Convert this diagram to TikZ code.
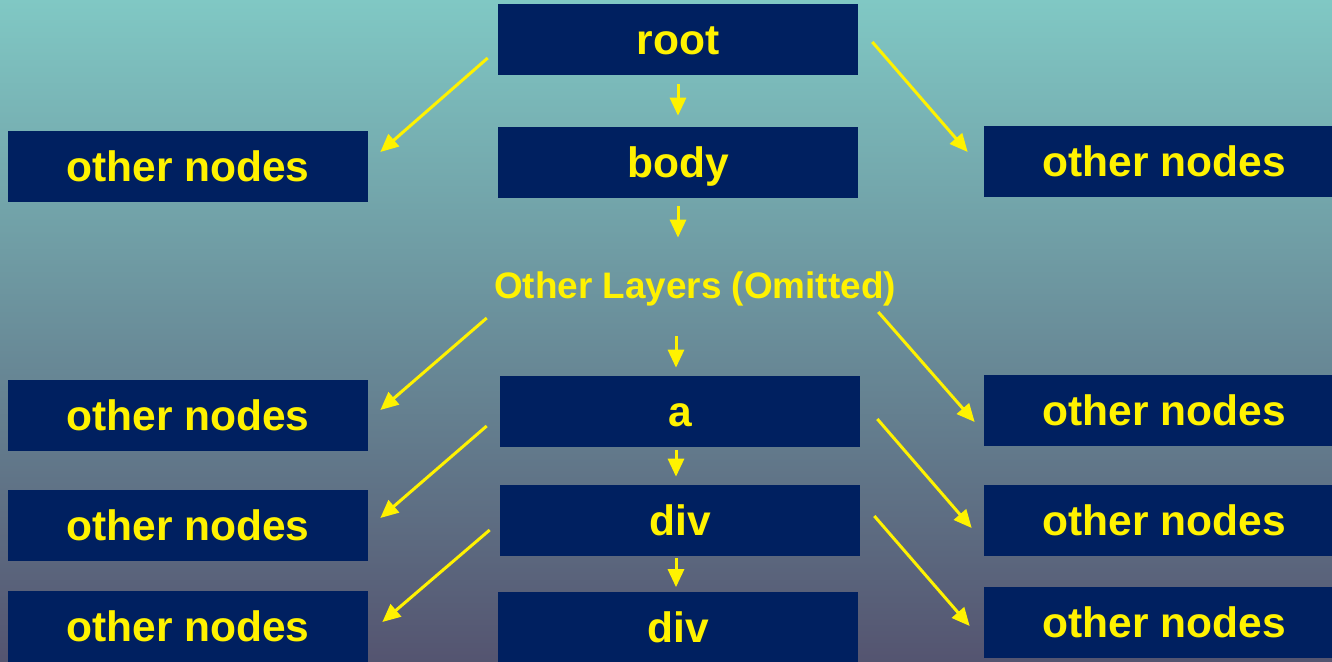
\documentclass[tikz,border=0pt]{standalone}
\usepackage{fontspec}
\setmainfont{Liberation Sans}
\definecolor{navybox}{HTML}{002060}
\definecolor{tealtop}{HTML}{80C8C4}
\definecolor{tealmid}{HTML}{6A9AA0}
\definecolor{slatebot}{HTML}{545470}
\usetikzlibrary{arrows.meta,positioning}

\begin{document}
\begin{tikzpicture}[x=0.02cm, y=-0.02cm,
  box/.style={fill=navybox, text=yellow, minimum width=7.2cm, minimum height=1.42cm,
    inner sep=0pt, text height=17.4pt, text depth=0pt,
    font=\bfseries\fontsize{24.2}{28}\selectfont},
  layer/.style={text=yellow, inner sep=0pt, minimum height=1.42cm,
    text height=15.2pt, text depth=0pt, font=\bfseries\fontsize{21}{25}\selectfont},
  link/.style={-{Triangle[length=0.36cm,width=0.32cm]}, yellow, line width=0.06cm}
]
  \useasboundingbox (0,0) rectangle (1332,662);
  \clip (0,0) rectangle (1332,662);
  \shade[top color=tealtop, middle color=tealmid, bottom color=slatebot] (0,0) rectangle (1332,662);

  % Middle column
  \node[box] (root) at (678,39.5) {root};
  \node[box] (body) at (678,162.5) {body};
  \node[layer] (layers) at (695,285) {Other Layers (Omitted)};
  \node[box] (a) at (680,411.5) {a};
  \node[box] (div1) at (680,520.5) {div};
  \node[box] (div2) at (678,627) {div};

  % Side columns
  \node[box] (left1) at (188,166.5) {other nodes};
  \node[box] (left2) at (188,415.5) {other nodes};
  \node[box] (left3) at (188,525.5) {other nodes};
  \node[box] (left4) at (188,626.5) {other nodes};
  \node[box] (right1) at (1164,161.5) {other nodes};
  \node[box] (right2) at (1164,410.5) {other nodes};
  \node[box] (right3) at (1164,520.5) {other nodes};
  \node[box] (right4) at (1164,622.5) {other nodes};

  % Down the tree
  \draw[link, shorten <=0.18cm, shorten >=0.22cm] (root) -- (body);
  \draw[link, shorten <=0.16cm, shorten >=0.23cm] (body.south) -- (body.south |- layers.north);
  \draw[link, shorten <=0.31cm, shorten >=0.16cm] ([xshift=-0.08cm]a.north |- layers.south) -- ([xshift=-0.08cm]a.north);
  \draw[link, shorten <=0.06cm, shorten >=0.16cm] ([xshift=-0.08cm]a.south) -- ([xshift=-0.08cm]div1.north);
  \draw[link, shorten <=0.04cm, shorten >=0.08cm] ([xshift=-0.08cm]div1.south) -- ([xshift=-0.08cm]div1.south |- div2.north);

  % Branches
  \draw[link] ([shift={(-10,18.5)}]root.west) -- ([shift={(12,-14.5)}]left1.east);
  \draw[link] ([shift={(14,2.5)}]root.east) -- ([shift={(-16,-9.5)}]right1.west);
  \draw[link] ([shift={(-7,33)}]layers.west) -- ([shift={(12,-5.5)}]left2.east);
  \draw[link] ([shift={(-18,27)}]layers.east) -- ([shift={(-9,11.5)}]right2.west);
  \draw[link] ([shift={(-13,14.5)}]a.west) -- ([shift={(12,-7.5)}]left3.east);
  \draw[link] ([shift={(17,7.5)}]a.east) -- ([shift={(-12,7.5)}]right3.west);
  \draw[link] ([shift={(-10,9.5)}]div1.west) -- ([shift={(14,-4.5)}]left4.east);
  \draw[link] ([shift={(14,-4.5)}]div1.east) -- ([shift={(-14,3.5)}]right4.west);
\end{tikzpicture}
\end{document}
